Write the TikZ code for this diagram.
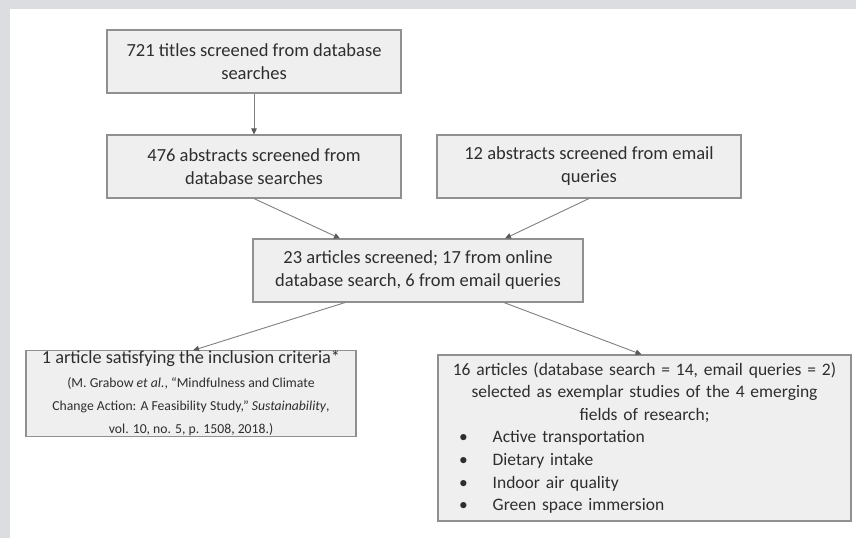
\documentclass[tikz,border=0pt]{standalone}
\usepackage{fontspec}
\setmainfont{Carlito}
\usetikzlibrary{arrows.meta}
\definecolor{bgframe}{HTML}{DCDDE0}
\definecolor{boxfill}{HTML}{EFEFEF}
\definecolor{boxline}{HTML}{909090}
\definecolor{txt}{HTML}{2E2E2E}
\definecolor{arr}{HTML}{808080}
\definecolor{arrtip}{HTML}{5A5A5A}
\newcommand{\citesz}{\fontsize{13.7}{19}\selectfont}
\newcommand{\headsz}{\fontsize{18.3}{20}\selectfont}
\tikzset{
  flowbox/.style={draw=boxline, fill=boxfill, line width=1.1pt, text=txt,
    inner sep=0pt, align=center, font=\fontsize{18.5}{23}\selectfont},
  flowarrow/.style={draw=arr, line width=0.9pt, -{Triangle[length=6pt,width=5.5pt,color=arrtip]}}
}
\begin{document}
\begin{tikzpicture}[x=1pt,y=-1pt]
\fill[bgframe] (0,0) rectangle (856,538);
\fill[white] (10,9) rectangle (856,538);
\useasboundingbox (0,0) rectangle (856,538);

\node[flowbox, minimum width=294pt, minimum height=63pt] (b1) at (254,61.5)
  {721 titles screened from database\\searches};
\node[flowbox, minimum width=294pt, minimum height=63pt] (b2) at (254,166.5)
  {476 abstracts screened from\\database searches};
\node[flowbox, minimum width=304pt, minimum height=63pt] (b3) at (589,166.5)
  {12 abstracts screened from email\\queries};
\node[flowbox, minimum width=330pt, minimum height=63pt] (b4) at (418,270.5)
  {23 articles screened; 17 from online\\database search, 6 from email queries};
\node[flowbox, minimum width=330pt, minimum height=77pt] (b5) at (191,393.5)
  {\headsz 1 article satisfying the inclusion criteria*\\[1pt]
   \citesz (M. Grabow \textit{et al.}, “Mindfulness and Climate\\
   \citesz Change Action: A Feasibility Study,” \textit{Sustainability},\\
   \citesz vol. 10, no. 5, p. 1508, 2018.)};
\node[flowbox, font=\fontsize{17.5}{22.6}\selectfont, minimum width=413pt, minimum height=166pt, text width=413pt] (b6) at (644.5,438)
  {16 articles (database search = 14, email queries = 2)\\
   selected as exemplar studies of the 4 emerging\\
   fields of research;\\
   \makebox[413pt][l]{\hspace{21pt}\textbullet\hspace{25pt}Active transportation}\\
   \makebox[413pt][l]{\hspace{21pt}\textbullet\hspace{25pt}Dietary intake}\\
   \makebox[413pt][l]{\hspace{21pt}\textbullet\hspace{25pt}Indoor air quality}\\
   \makebox[413pt][l]{\hspace{21pt}\textbullet\hspace{25pt}Green space immersion}};

\draw[flowarrow] (b1.south) -- (b2.north);
\draw[flowarrow] (b2.south) -- ([xshift=-78pt]b4.north);
\draw[flowarrow] (b3.south) -- ([xshift=87pt]b4.north);
\draw[flowarrow] ([xshift=-73pt]b4.south) -- ([xshift=2pt]b5.north);
\draw[flowarrow] ([xshift=86pt]b4.south) -- ([xshift=-3pt]b6.north);
\end{tikzpicture}
\end{document}
